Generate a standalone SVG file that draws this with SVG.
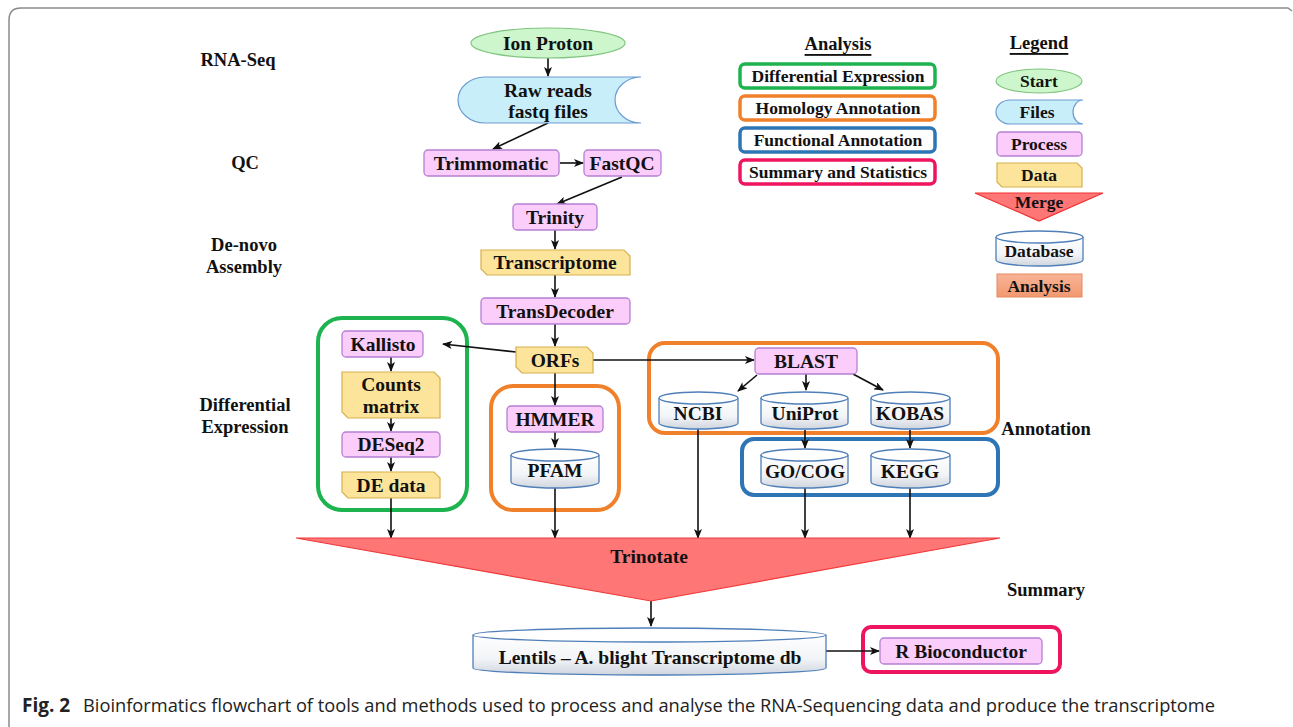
<svg xmlns="http://www.w3.org/2000/svg" width="1293" height="727" viewBox="0 0 1293 727">
<defs>
<style>
.t{font-family:"Liberation Serif","DejaVu Serif",serif;font-weight:bold;fill:#111;text-anchor:middle;dominant-baseline:central}
.n{font-size:19.5px}
.s{font-size:17.5px}
.l{font-size:18.5px}
.proc{fill:#fbcdfb;stroke:#b77fd3;stroke-width:1.3}
.data{fill:#fde49b;stroke:#d7b04e;stroke-width:1.2}
.file{fill:#c8eef9;stroke:#6c9bd2;stroke-width:1.2}
.start{fill:#cdf6cd;stroke:#7fc57f;stroke-width:1.2}
.cyl{fill:url(#cg);stroke:#4f7fb8;stroke-width:1.3}
.cylt{fill:#fff;stroke:#4f7fb8;stroke-width:1.3}
.c{stroke:#111;stroke-width:1.6;fill:none}
.ca{stroke:#111;stroke-width:1.6;fill:none;marker-end:url(#ah)}
.grp{fill:none;stroke-width:4}
</style>
<linearGradient id="cg" x1="0" y1="0" x2="0" y2="1">
<stop offset="0" stop-color="#ffffff"/><stop offset="0.6" stop-color="#f2f4f7"/><stop offset="1" stop-color="#cfd5de"/>
</linearGradient>
<linearGradient id="ag" x1="0" y1="0" x2="0" y2="1">
<stop offset="0" stop-color="#f8b497"/><stop offset="1" stop-color="#f2986f"/>
</linearGradient>
<marker id="ah" markerWidth="10" markerHeight="8" refX="9" refY="4" orient="auto" markerUnits="userSpaceOnUse">
<path d="M0,0 L10,4 L0,8 L2.5,4 Z" fill="#111"/>
</marker>
</defs>
<rect width="1293" height="727" fill="#fff"/>
<path d="M9,727 V20 Q9,8 21,8 H1288 L1292,11" fill="none" stroke="#8a8a8a" stroke-width="1.5"/>

<g id="stage-labels">
<text class="t l" x="238" y="60">RNA-Seq</text>
<text class="t l" x="245" y="163">QC</text>
<text class="t l" x="244" y="245">De-novo</text>
<text class="t l" x="244" y="267">Assembly</text>
<text class="t l" x="245" y="405">Differential</text>
<text class="t l" x="245" y="427">Expression</text>
<text class="t l" x="1046" y="429">Annotation</text>
<text class="t l" x="1046" y="590">Summary</text>
</g>

<g id="analysis-key">
<text class="t l" x="838" y="44" text-decoration="underline">Analysis</text>
<rect x="740" y="64" width="195" height="24" rx="5" fill="#fff" stroke="#1db34f" stroke-width="3.5"/>
<text class="t s" x="838" y="76">Differential Expression</text>
<rect x="740" y="96" width="195" height="24" rx="5" fill="#fff" stroke="#f0802a" stroke-width="3.5"/>
<text class="t s" x="838" y="108">Homology Annotation</text>
<rect x="740" y="128" width="195" height="24" rx="5" fill="#fff" stroke="#2e75b6" stroke-width="3.5"/>
<text class="t s" x="838" y="140">Functional Annotation</text>
<rect x="740" y="160" width="195" height="24" rx="5" fill="#fff" stroke="#ee1460" stroke-width="3.5"/>
<text class="t s" x="838" y="172">Summary and Statistics</text>
</g>

<g id="legend">
<text class="t l" x="1039" y="43" text-decoration="underline">Legend</text>
<ellipse class="start" cx="1039" cy="81" rx="43" ry="12"/>
<text class="t s" x="1039" y="81">Start</text>
<path class="file" d="M1010,100 H1083 A10,12 0 0 0 1083,124 H1010 A14,12 0 0 1 1010,100 Z"/>
<text class="t s" x="1037" y="112">Files</text>
<rect class="proc" x="997" y="132" width="85" height="24" rx="4"/>
<text class="t s" x="1039" y="144">Process</text>
<path class="data" d="M997,163 H1077 L1082,168 V187 H1002 L997,182 Z"/>
<text class="t s" x="1039" y="175">Data</text>
<path d="M975,193 H1103 L1039,221 Z" fill="#ff7676" stroke="#f03030" stroke-width="1.2"/>
<text class="t s" x="1039" y="202">Merge</text>
<path class="cyl" d="M996,237 V260 A43.5,6 0 0 0 1083,260 V237"/>
<ellipse class="cylt" cx="1039.5" cy="237" rx="43.5" ry="6"/>
<text class="t s" x="1039" y="251">Database</text>
<rect x="997" y="274" width="85" height="23" fill="url(#ag)" stroke="#e58a60" stroke-width="1"/>
<text class="t s" x="1039" y="285.5">Analysis</text>
</g>

<g id="group-boxes">
<rect id="grp-de" class="grp" x="318" y="318" width="149" height="192" rx="24" stroke="#1db34f"/>
<rect id="grp-hmmer" class="grp" x="491" y="386" width="128" height="124" rx="22" stroke="#f0802a"/>
<rect id="grp-blast" class="grp" x="649" y="343" width="349" height="90" rx="16" stroke="#f0802a"/>
<rect id="grp-func" class="grp" x="742" y="439" width="256" height="56" rx="12" stroke="#2e75b6"/>
<rect id="grp-sum" class="grp" x="863" y="627" width="197" height="45" rx="8" stroke="#ee1460"/>
</g>

<g id="connectors">
<path class="ca" d="M548,58 V76"/>
<path class="ca" d="M548,123 L493,149"/>
<path class="ca" d="M560,163 H583"/>
<path class="ca" d="M622,177 L557,204"/>
<path class="ca" d="M555,230 V249"/>
<path class="ca" d="M555,275 V297"/>
<path class="ca" d="M555,324 V346"/>
<path class="ca" d="M516,352 L443,344"/>
<path class="ca" d="M593,360 H754"/>
<path class="ca" d="M391,357 V371"/>
<path class="ca" d="M391,418 V431"/>
<path class="ca" d="M391,457 V471"/>
<path class="ca" d="M391,498 V538"/>
<path class="ca" d="M555,373 V405"/>
<path class="ca" d="M555,432 V447"/>
<path class="ca" d="M555,488 V538"/>
<path class="ca" d="M757,375 L738,391"/>
<path class="ca" d="M806,374 V390"/>
<path class="ca" d="M853,374 L883,390"/>
<path class="ca" d="M805,430 V448"/>
<path class="ca" d="M910,430 V448"/>
<path class="ca" d="M698,429 V538"/>
<path class="ca" d="M805,488 V538"/>
<path class="ca" d="M910,488 V538"/>
<path class="ca" d="M651,601 V626"/>
<path class="ca" d="M826,651 H879"/>
</g>

<g id="ion-proton">
<ellipse class="start" cx="548" cy="43" rx="77" ry="15"/>
<text class="t n" x="548" y="43">Ion Proton</text>
</g>
<g id="raw-reads">
<path class="file" d="M485,77 H641 A26,23 0 0 0 641,123 H485 A27,23 0 0 1 485,77 Z"/>
<text class="t n" x="548" y="90">Raw reads</text>
<text class="t n" x="548" y="111">fastq files</text>
</g>
<g id="trimmomatic">
<rect class="proc" x="424" y="150" width="135" height="26" rx="4"/>
<text class="t n" x="491" y="163">Trimmomatic</text>
</g>
<g id="fastqc">
<rect class="proc" x="584" y="150" width="77" height="26" rx="4"/>
<text class="t n" x="622" y="163">FastQC</text>
</g>
<g id="trinity">
<rect class="proc" x="513" y="204" width="84" height="26" rx="4"/>
<text class="t n" x="555" y="217">Trinity</text>
</g>
<g id="transcriptome">
<path class="data" d="M481,250 H624 L630,256 V275 H487 L481,269 Z"/>
<text class="t n" x="555" y="262">Transcriptome</text>
</g>
<g id="transdecoder">
<rect class="proc" x="481" y="298" width="149" height="26" rx="4"/>
<text class="t n" x="555" y="311">TransDecoder</text>
</g>
<g id="orfs">
<path class="data" d="M516,347 H587 L593,353 V373 H522 L516,367 Z"/>
<text class="t n" x="555" y="360">ORFs</text>
</g>
<g id="kallisto">
<rect class="proc" x="342" y="331" width="81" height="26" rx="4"/>
<text class="t n" x="383" y="344">Kallisto</text>
</g>
<g id="counts-matrix">
<path class="data" d="M342,372 H434 L440,378 V418 H348 L342,412 Z"/>
<text class="t n" x="391" y="384">Counts</text>
<text class="t n" x="391" y="406">matrix</text>
</g>
<g id="deseq2">
<rect class="proc" x="342" y="432" width="98" height="25" rx="4"/>
<text class="t n" x="391" y="444.5">DESeq2</text>
</g>
<g id="de-data">
<path class="data" d="M342,472 H434 L440,478 V498 H348 L342,492 Z"/>
<text class="t n" x="391" y="485">DE data</text>
</g>
<g id="hmmer">
<rect class="proc" x="507" y="406" width="96" height="26" rx="4"/>
<text class="t n" x="555" y="419">HMMER</text>
</g>
<g id="pfam">
<path class="cyl" d="M511,455 V482 A44,6 0 0 0 599,482 V455"/>
<ellipse class="cylt" cx="555" cy="455" rx="44" ry="6"/>
<text class="t n" x="555" y="470">PFAM</text>
</g>
<g id="blast">
<rect class="proc" x="755" y="348" width="102" height="26" rx="4"/>
<text class="t n" x="806" y="361">BLAST</text>
</g>
<g id="ncbi">
<path class="cyl" d="M659,398 V423 A39.5,6 0 0 0 738,423 V398"/>
<ellipse class="cylt" cx="698.5" cy="398" rx="39.5" ry="6"/>
<text class="t n" x="698" y="413">NCBI</text>
</g>
<g id="uniprot">
<path class="cyl" d="M761,398 V423 A43.5,6 0 0 0 848,423 V398"/>
<ellipse class="cylt" cx="804.5" cy="398" rx="43.5" ry="6"/>
<text class="t n" x="805" y="413">UniProt</text>
</g>
<g id="kobas">
<path class="cyl" d="M871,398 V423 A39.5,6 0 0 0 950,423 V398"/>
<ellipse class="cylt" cx="910.5" cy="398" rx="39.5" ry="6"/>
<text class="t n" x="910" y="413">KOBAS</text>
</g>
<g id="go-cog">
<path class="cyl" d="M761,455 V482 A43.5,6 0 0 0 848,482 V455"/>
<ellipse class="cylt" cx="804.5" cy="455" rx="43.5" ry="6"/>
<text class="t n" x="805" y="471">GO/COG</text>
</g>
<g id="kegg">
<path class="cyl" d="M871,455 V482 A39.5,6 0 0 0 950,482 V455"/>
<ellipse class="cylt" cx="910.5" cy="455" rx="39.5" ry="6"/>
<text class="t n" x="910" y="471">KEGG</text>
</g>
<g id="trinotate">
<path d="M296,538 H1000 L651,601 Z" fill="#ff7676" stroke="#f03a3a" stroke-width="1.2"/>
<text class="t n" x="649" y="556">Trinotate</text>
</g>
<g id="lentils-db">
<path class="cyl" d="M473,635 V668 A176.5,7 0 0 0 826,668 V635"/>
<ellipse class="cylt" cx="649.5" cy="635" rx="176.5" ry="7"/>
<text class="t n" x="650" y="657">Lentils – A. blight Transcriptome db</text>
</g>
<g id="r-bioconductor">
<rect class="proc" x="880" y="638" width="162" height="26" rx="4"/>
<text class="t n" x="961" y="651">R Bioconductor</text>
</g>

<g id="caption">
<text x="22" y="712" font-family="'Open Sans','Noto Sans',sans-serif" font-size="19" fill="#222"><tspan font-weight="bold">Fig. 2</tspan><tspan x="83" textLength="1132" lengthAdjust="spacingAndGlyphs">Bioinformatics flowchart of tools and methods used to process and analyse the RNA-Sequencing data and produce the transcriptome</tspan></text>
</g>
</svg>
